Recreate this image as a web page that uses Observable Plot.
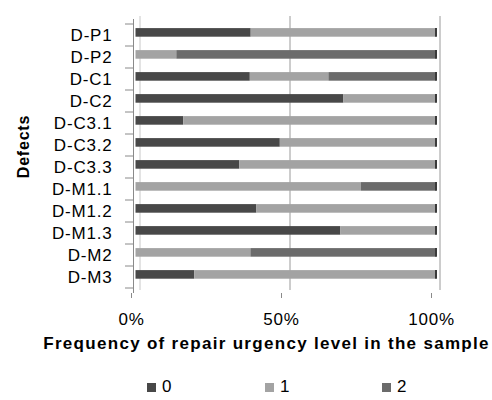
<!DOCTYPE html>
<html><head><meta charset="utf-8">
<script src="https://cdn.jsdelivr.net/npm/d3@7"></script>
<script src="https://cdn.jsdelivr.net/npm/@observablehq/plot@0.6"></script>
<style>
body{margin:0;background:#fff;font-family:"Liberation Sans",Arial,sans-serif;}
#chart{width:492px;height:400px;position:relative;overflow:hidden;}
#chart svg{display:block;}
.legend{position:absolute;top:362px;left:0;width:492px;height:38px;}
.item{position:absolute;top:15px;display:flex;align-items:center;font-size:17px;letter-spacing:0.8px;color:#000;line-height:20px;}
.sw{width:9px;height:9px;margin-right:6px;}
</style></head><body><div id="chart"></div>
<script>
const defects = ["D-P1","D-P2","D-C1","D-C2","D-C3.1","D-C3.2","D-C3.3","D-M1.1","D-M1.2","D-M1.3","D-M2","D-M3"];
const levels = ["0","1","2"];
const level0 = [38.4, 0, 38.1, 69.3, 15.9, 48.1, 34.6, 0, 40.3, 68.3, 0, 19.6];
const level1 = [61.6, 13.6, 26.2, 30.7, 84.1, 51.9, 65.4, 75.1, 59.7, 31.7, 38.3, 80.4];
const level2 = [0, 86.4, 35.7, 0, 0, 0, 0, 24.9, 0, 0, 61.7, 0];
const colors = ["#484848", "#a3a3a3", "#6b6b6b"];
const xTicks = [0, 50, 100];
const xTickLabels = ["0%", "50%", "100%"];
const xTitle = "Frequency of repair urgency level in the sample";
const yTitle = "Defects";

const series = [level0, level1, level2];
const rows = defects.flatMap((d, i) => series.map((arr, j) => ({defect: d, level: levels[j], value: arr[i]})));
const totals = defects.map((d, i) => ({defect: d, total: level0[i] + level1[i] + level2[i]}));

const plot = Plot.plot({
  width: 492, height: 362,
  marginLeft: 133, marginRight: 59, marginTop: 19, marginBottom: 69,
  style: {fontFamily: "Liberation Sans, Arial, sans-serif", fontSize: "17px", color: "#000", background: "#fff", letterSpacing: "0.8px"},
  x: {domain: [0, 100]},
  y: {domain: defects, padding: 0},
  color: {domain: levels, range: colors},
  marks: [
    Plot.ruleX(xTicks, {x: d => d, dx: 6.5, dy: -3, stroke: d => d === 0 ? "#c8c8c8" : "#9a9a9a", strokeWidth: 1}),
    Plot.ruleX([xTicks[0]], {x: d => d, stroke: "#8a8a8a", strokeWidth: 1}),
    Plot.barX(rows, Plot.stackX({x: "value", y: "defect", fill: "level", order: levels, insetTop: 6.7, insetBottom: 6.7, dx: 2.5, dy: -2.6})),
    Plot.tickX(totals, {x: "total", y: "defect", stroke: "#3a3a3a", strokeWidth: 2, insetTop: 6.7, insetBottom: 6.7, dx: 2.5, dy: -2.6}),
    Plot.axisY({tickSize: 0, tickPadding: 21, fontSize: 17, label: null}),
    Plot.axisX({ticks: xTicks, tickFormat: d => xTickLabels[xTicks.indexOf(d)], tickSize: 5, tickPadding: 14, stroke: "#8a8a8a", fontSize: 17, dx: -2, label: null}),
    Plot.text([yTitle], {text: d => d, frameAnchor: "left", textAnchor: "middle", rotate: -90, dx: -110, dy: -10, fontWeight: "bold", fontSize: 16}),
    Plot.text([xTitle], {text: d => d, frameAnchor: "bottom", dx: -17, dy: 55, fontWeight: "bold", fontSize: 17})
  ]
});

// band-boundary tick marks on the y axis, from Plot's own y scale
const ys = plot.scale("y");
const xs = plot.scale("x");
const x0 = xs.apply(0);
const bounds = defects.map(d => ys.apply(d)).concat([ys.apply(defects[defects.length - 1]) + ys.step]);
d3.select(plot).append("g").attr("stroke", "#8a8a8a").selectAll("line").data(bounds).join("line")
  .attr("x1", x0 - 8).attr("x2", x0).attr("y1", d => d).attr("y2", d => d);

// wider letter spacing on the x-axis title, as in the reference
d3.select(plot).selectAll("text").filter(function() { return this.textContent === xTitle; }).style("letter-spacing", "1.3px");

const chart = document.getElementById("chart");
chart.appendChild(plot);

const legend = document.createElement("div");
legend.className = "legend";
const legendLeft = [147, 265, 382];
levels.forEach((lv, i) => {
  const it = document.createElement("div");
  it.className = "item";
  it.style.left = legendLeft[i] + "px";
  const sw = document.createElement("span");
  sw.className = "sw";
  sw.style.background = colors[i];
  it.appendChild(sw);
  it.appendChild(document.createTextNode(lv));
  legend.appendChild(it);
});
chart.appendChild(legend);
</script>
</body></html>
